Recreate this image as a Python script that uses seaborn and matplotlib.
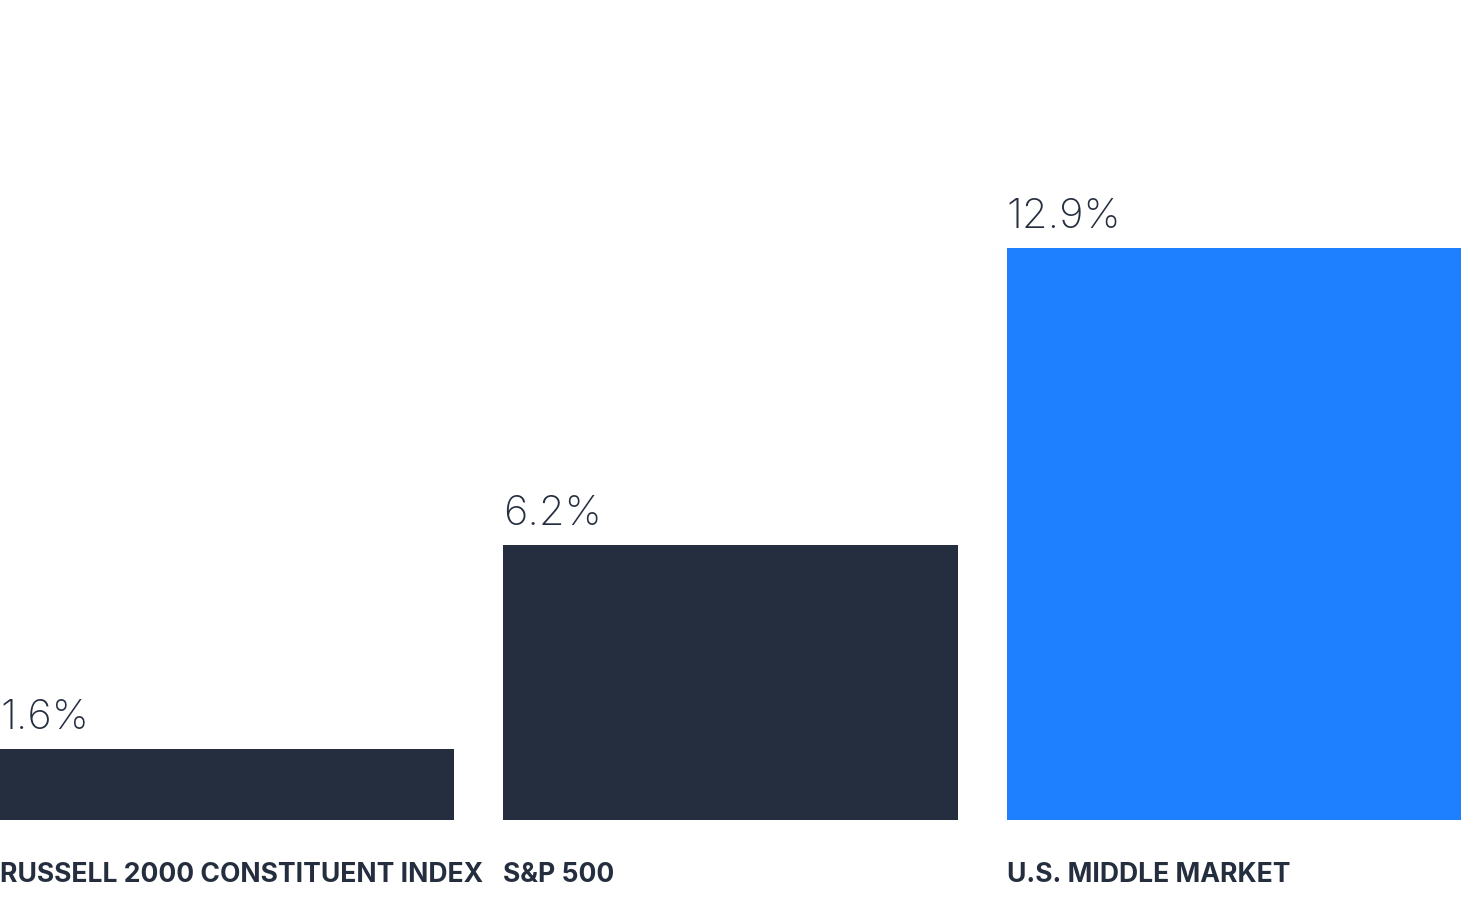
"""Bar chart: returns by market segment."""
import matplotlib
matplotlib.use("Agg")
import matplotlib.pyplot as plt
import seaborn as sns

categories = ["RUSSELL 2000 CONSTITUENT INDEX", "S&P 500", "U.S. MIDDLE MARKET"]
values = [1.6, 6.2, 12.9]
value_labels = ["1.6%", "6.2%", "12.9%"]
bar_colors = ["#252E3F", "#252E3F", "#1E80FF"]

NAVY = "#252E3F"
BAR_W = 0.903

sns.set_theme(style="white")
plt.rcParams["font.family"] = ["Inter", "DejaVu Sans"]

fig = plt.figure(figsize=(14.61, 9.01), dpi=100)
ax = fig.add_axes([0, 81 / 901, 1, 820 / 901])

sns.barplot(x=categories, y=values, hue=categories, palette=bar_colors,
            width=BAR_W, legend=False, ax=ax, saturation=1, linewidth=0)

ax.set_xlim(-BAR_W / 2, 2 + BAR_W / 2)
ax.set_ylim(0, 18.49)
ax.axis("off")

for i, (v, lab) in enumerate(zip(values, value_labels)):
    # value above the bar, left aligned with bar edge
    ax.annotate(lab, xy=(i - BAR_W / 2, v), xytext=(0, 14.5), textcoords="offset points",
                ha="left", va="baseline", fontsize=30, fontweight="light",
                color=NAVY)
    # category name below the baseline
    ax.annotate(categories[i], xy=(i - BAR_W / 2, 0), xytext=(0, -44.5),
                textcoords="offset points", ha="left", va="baseline",
                fontsize=19.1, fontweight="bold", color=NAVY,
                annotation_clip=False)

fig.savefig("out.png", dpi=100)
